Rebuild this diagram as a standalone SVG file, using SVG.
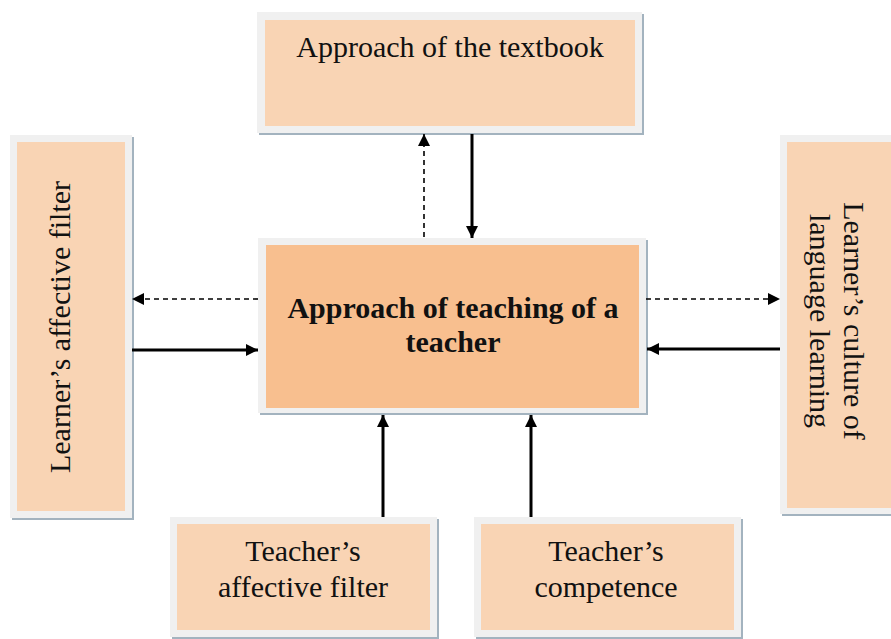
<svg xmlns="http://www.w3.org/2000/svg" width="891" height="639" viewBox="0 0 891 639">
<defs>
<style>
.sh{fill:#a3b3bf}
.fr{fill:#f0f0f0}
.in{fill:#f9d4b4}
.inc{fill:#f8bf8f}
.t{font-family:"Liberation Serif","Times New Roman",serif;font-size:30px;fill:#111;text-anchor:middle}
.b{font-weight:bold}
.s{stroke:#000;stroke-width:3;fill:none}
.d{stroke:#000;stroke-width:1.6;fill:none;stroke-dasharray:5,4}
</style>
<marker id="ah" viewBox="0 0 10 10" refX="10" refY="5" markerWidth="14" markerHeight="12" markerUnits="userSpaceOnUse" orient="auto"><path d="M0,0L10,5L0,10z" fill="#000"/></marker>
</defs>
<rect width="891" height="639" fill="#fff"/>
<g id="textbook">
<rect class="sh" x="259" y="14" width="385" height="121"/>
<rect class="fr" x="257" y="12" width="385" height="121"/>
<rect class="in" x="265" y="20" width="370" height="106"/>
<text class="t" x="450" y="57">Approach of the textbook</text>
</g>
<g id="center">
<rect class="sh" x="260" y="240" width="388" height="175"/>
<rect class="fr" x="258" y="238" width="388" height="175"/>
<rect class="inc" x="266" y="245" width="373" height="163"/>
<text class="t b" x="453" y="318">Approach of teaching of a</text>
<text class="t b" x="453" y="352">teacher</text>
</g>
<g id="learner-filter">
<rect class="sh" x="12" y="137" width="122" height="383"/>
<rect class="fr" x="10" y="135" width="122" height="383"/>
<rect class="in" x="17" y="142" width="108" height="369"/>
<text class="t" transform="translate(70,327) rotate(-90)">Learner’s affective filter</text>
</g>
<g id="learner-culture">
<rect class="sh" x="782" y="137" width="120" height="379"/>
<rect class="fr" x="780" y="135" width="120" height="379"/>
<rect class="in" x="787" y="142" width="110" height="366"/>
<text class="t" transform="translate(844,321) rotate(90)">Learner’s culture of</text>
<text class="t" transform="translate(810,321) rotate(90)">language learning</text>
</g>
<g id="teacher-filter">
<rect class="sh" x="172" y="519" width="267" height="120"/>
<rect class="fr" x="170" y="517" width="267" height="120"/>
<rect class="in" x="177" y="524" width="253" height="106"/>
<text class="t" x="303" y="561">Teacher’s</text>
<text class="t" x="303" y="597">affective filter</text>
</g>
<g id="teacher-competence">
<rect class="sh" x="476" y="519" width="267" height="120"/>
<rect class="fr" x="474" y="517" width="267" height="120"/>
<rect class="in" x="481" y="524" width="253" height="106"/>
<text class="t" x="606" y="561">Teacher’s</text>
<text class="t" x="606" y="597">competence</text>
</g>
<g id="connectors">
<line class="d" x1="424" y1="237" x2="424" y2="134" marker-end="url(#ah)"/>
<line class="s" x1="472" y1="134" x2="472" y2="238" marker-end="url(#ah)"/>
<line class="d" x1="258" y1="299" x2="132" y2="299" marker-end="url(#ah)"/>
<line class="s" x1="132" y1="350" x2="258" y2="350" marker-end="url(#ah)"/>
<line class="d" x1="646" y1="299" x2="780" y2="299" marker-end="url(#ah)"/>
<line class="s" x1="780" y1="349" x2="647" y2="349" marker-end="url(#ah)"/>
<line class="s" x1="383" y1="517" x2="383" y2="415" marker-end="url(#ah)"/>
<line class="s" x1="531" y1="517" x2="531" y2="415" marker-end="url(#ah)"/>
</g>
</svg>
